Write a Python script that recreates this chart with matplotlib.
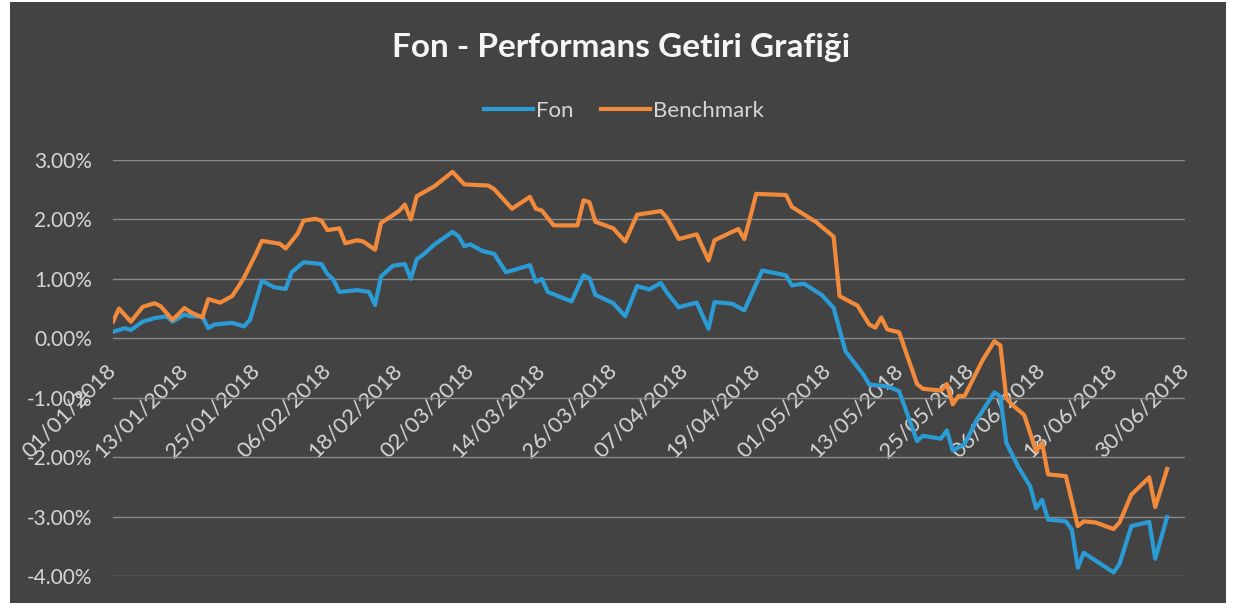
import matplotlib
matplotlib.use("Agg")
import matplotlib.pyplot as plt
from matplotlib.patches import Rectangle
from matplotlib.ticker import FuncFormatter
from matplotlib.transforms import ScaledTranslation
import pandas as pd

YEAR = "2018"
title_text = "Fon - Performans Getiri Grafiği"
series_names = ["Fon", "Benchmark"]

fon_dates = ["01/01", "03/01", "04/01", "06/01", "08/01", "10/01", "11/01", "13/01", "14/01", "16/01",
             "17/01", "18/01", "21/01", "23/01", "24/01", "26/01", "28/01", "30/01", "31/01", "02/02",
             "05/02", "06/02", "07/02", "08/02", "11/02", "13/02", "14/02", "15/02", "17/02", "19/02",
             "20/02", "21/02", "22/02", "24/02", "27/02", "28/02", "01/03", "02/03", "04/03", "06/03",
             "08/03", "12/03", "13/03", "14/03", "15/03", "19/03", "21/03", "22/03", "23/03", "26/03",
             "28/03", "30/03", "01/04", "03/04", "04/04", "06/04", "07/04", "09/04", "11/04", "12/04",
             "15/04", "17/04", "18/04", "20/04", "24/04", "25/04", "27/04", "30/04", "02/05", "04/05",
             "07/05", "08/05", "11/05", "13/05", "16/05", "17/05", "20/05", "21/05", "22/05", "24/05",
             "26/05", "29/05", "30/05", "31/05", "02/06", "04/06", "05/06", "06/06", "07/06", "10/06",
             "11/06", "12/06", "13/06", "18/06", "19/06", "21/06", "24/06", "25/06", "27/06"]
fon_values = [0.11, 0.17, 0.14, 0.28, 0.34, 0.37, 0.28, 0.40, 0.37, 0.37,
              0.17, 0.23, 0.26, 0.20, 0.31, 0.97, 0.86, 0.83, 1.11, 1.28,
              1.25, 1.08, 0.99, 0.78, 0.81, 0.78, 0.56, 1.04, 1.22, 1.25,
              1.00, 1.33, 1.40, 1.58, 1.79, 1.72, 1.55, 1.58, 1.47, 1.42,
              1.11, 1.23, 0.95, 1.00, 0.78, 0.62, 1.06, 1.01, 0.73, 0.59,
              0.37, 0.88, 0.82, 0.93, 0.77, 0.52, 0.55, 0.60, 0.16, 0.61,
              0.58, 0.47, 0.69, 1.14, 1.06, 0.89, 0.92, 0.73, 0.51, -0.22,
              -0.61, -0.78, -0.81, -0.89, -1.73, -1.64, -1.69, -1.55, -1.89, -1.78,
              -1.38, -0.91, -0.98, -1.76, -2.16, -2.49, -2.86, -2.72, -3.05, -3.08,
              -3.22, -3.86, -3.61, -3.94, -3.80, -3.16, -3.09, -3.71, -3.01]

bench_dates = ["01/01", "02/01", "04/01", "06/01", "08/01", "09/01", "11/01", "13/01", "14/01", "16/01",
               "17/01", "19/01", "21/01", "22/01", "23/01", "25/01", "26/01", "29/01", "30/01", "01/02",
               "02/02", "04/02", "05/02", "06/02", "08/02", "09/02", "11/02", "12/02", "14/02", "15/02",
               "18/02", "19/02", "20/02", "21/02", "24/02", "27/02", "01/03", "05/03", "06/03", "09/03",
               "12/03", "13/03", "14/03", "16/03", "20/03", "21/03", "22/03", "23/03", "26/03", "28/03",
               "30/03", "03/04", "04/04", "06/04", "09/04", "11/04", "12/04", "16/04", "17/04", "18/04",
               "19/04", "24/04", "25/04", "29/04", "02/05", "03/05", "06/05", "08/05", "09/05", "10/05",
               "11/05", "13/05", "16/05", "17/05", "20/05", "21/05", "22/05", "23/05", "24/05", "27/05",
               "29/05", "30/05", "31/05", "01/06", "03/06", "05/06", "06/06", "07/06", "10/06", "12/06",
               "13/06", "15/06", "18/06", "19/06", "21/06", "24/06", "25/06", "27/06"]
bench_values = [0.28, 0.50, 0.28, 0.53, 0.59, 0.54, 0.31, 0.51, 0.44, 0.35,
                0.66, 0.60, 0.71, 0.86, 1.02, 1.42, 1.64, 1.59, 1.51, 1.76,
                1.98, 2.01, 1.98, 1.82, 1.85, 1.60, 1.65, 1.63, 1.49, 1.94,
                2.14, 2.25, 2.00, 2.39, 2.56, 2.80, 2.59, 2.57, 2.51, 2.18,
                2.38, 2.18, 2.15, 1.90, 1.90, 2.32, 2.29, 1.96, 1.85, 1.63,
                2.08, 2.14, 2.03, 1.67, 1.75, 1.31, 1.65, 1.84, 1.67, 2.04,
                2.43, 2.41, 2.21, 1.96, 1.71, 0.71, 0.55, 0.23, 0.18, 0.35,
                0.15, 0.10, -0.77, -0.85, -0.88, -0.77, -1.11, -0.97, -0.97, -0.37,
                -0.05, -0.12, -1.01, -1.12, -1.29, -1.90, -1.76, -2.29, -2.32, -3.16,
                -3.08, -3.10, -3.21, -3.10, -2.63, -2.34, -2.84, -2.20]

y_ticks = [-4, -3, -2, -1, 0, 1, 2, 3]
x_tick_labels = ["01/01/2018", "13/01/2018", "25/01/2018", "06/02/2018", "18/02/2018", "02/03/2018",
                 "14/03/2018", "26/03/2018", "07/04/2018", "19/04/2018", "01/05/2018", "13/05/2018",
                 "25/05/2018", "06/06/2018", "18/06/2018", "30/06/2018"]

def to_dt(lst):
    return pd.to_datetime([d + "/" + YEAR for d in lst], format="%d/%m/%Y")

fon_x = to_dt(fon_dates)
bench_x = to_dt(bench_dates)
tick_x = pd.to_datetime(x_tick_labels, format="%d/%m/%Y")

BG = "#434343"
TXT = "#d6d6d6"
FON_C = "#2b9bd6"
BEN_C = "#f28a3c"
FONT = ["Lato", "DejaVu Sans"]

plt.rcParams["font.family"] = FONT

fig = plt.figure(figsize=(12.38, 6.15), dpi=100)
fig.patch.set_facecolor("white")
fig.add_artist(Rectangle((10 / 1238, 12 / 615), 1216 / 1238, 601 / 615,
                         transform=fig.transFigure, facecolor=BG, edgecolor="none", zorder=0))

ax = fig.add_axes([113 / 1238, 39 / 615, 1072 / 1238, 416 / 615])
ax.set_facecolor("none")
ax.set_zorder(1)

ax.plot(fon_x, fon_values, color=FON_C, lw=3.0, solid_joinstyle="round", label=series_names[0], zorder=3)
ax.plot(bench_x, bench_values, color=BEN_C, lw=3.0, solid_joinstyle="round", label=series_names[1], zorder=4)

ax.set_ylim(-4, 3)
ax.set_xlim(tick_x[0], tick_x[-1])
ax.set_yticks(y_ticks)
ax.yaxis.set_major_formatter(FuncFormatter(lambda v, p: f"{v:.2f}%"))
ax.grid(axis="y", color="#8a8a8a", lw=1.0)
ax.grid(axis="x", visible=False)
ax.set_axisbelow(True)

for s in ["top", "right", "left"]:
    ax.spines[s].set_visible(False)
ax.spines["bottom"].set_position(("data", 0))
ax.spines["bottom"].set_visible(False)

ax.set_xticks(tick_x)
ax.tick_params(axis="x", length=0, pad=16, labelsize=16, labelcolor=TXT)
ax.tick_params(axis="y", length=0, pad=15, labelsize=15, labelcolor=TXT)
ax.set_xticklabels(x_tick_labels, rotation=45, ha="right", va="top", rotation_mode="anchor")
shift = ScaledTranslation(-7 / 100, 0, fig.dpi_scale_trans)
for lbl in ax.get_xticklabels():
    lbl.set_transform(lbl.get_transform() + shift)

fig.text(621 / 1238, 1 - 48 / 615, title_text, ha="center", va="center",
         fontsize=24, fontweight="bold", color="#f5f5f5")

fig.legend(loc="center", bbox_to_anchor=(624 / 1238, 1 - 111 / 615), ncol=2, frameon=False,
           fontsize=16, labelcolor=TXT, handlelength=2.2, handletextpad=0.15, columnspacing=1.2)

fig.savefig("out.png", dpi=100, facecolor=fig.get_facecolor())
